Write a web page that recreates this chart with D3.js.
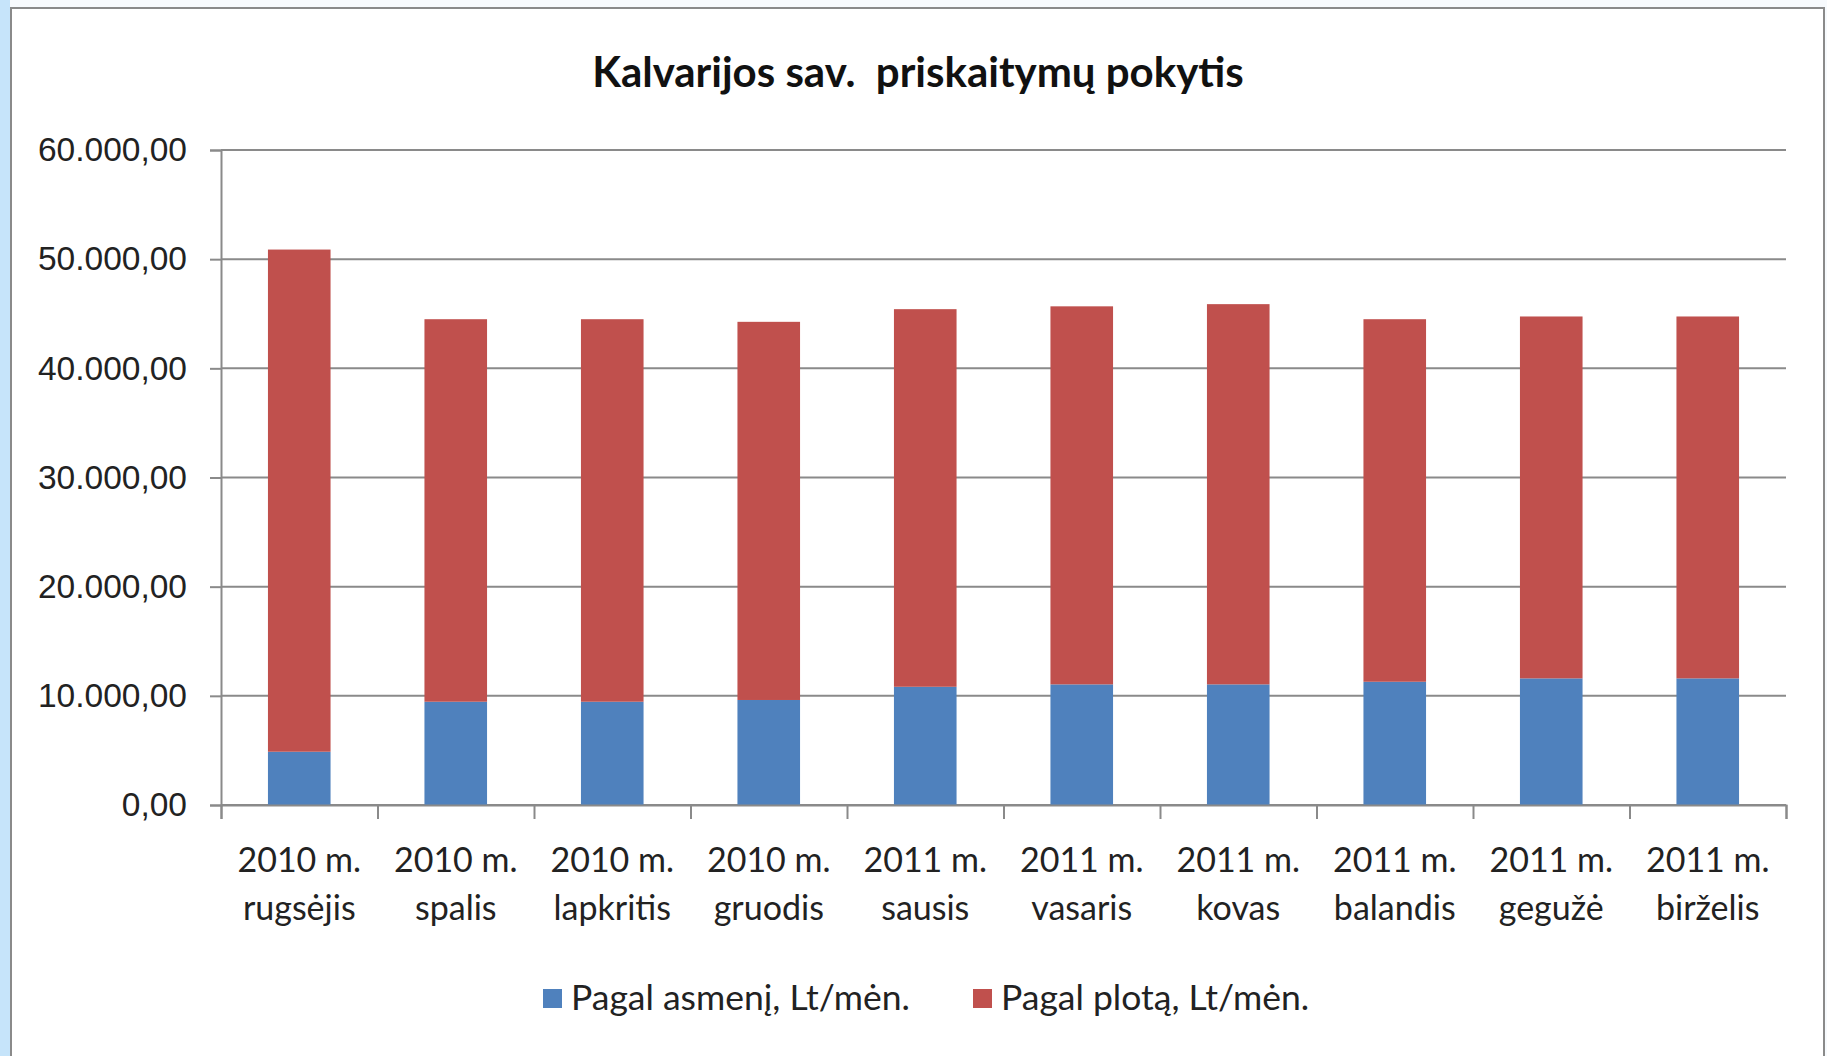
<!DOCTYPE html>
<html>
<head>
<meta charset="utf-8">
<script src="https://cdn.jsdelivr.net/npm/d3@7"></script>
<style>
  html, body { margin: 0; padding: 0; background: #f7fafd; overflow: hidden; }
  svg { display: block; font-family: Lato, "Open Sans", sans-serif; }
</style>
</head>
<body>
<div id="chart"></div>
<script>
// duomenys
const categoriesTop = ["2010 m.", "2010 m.", "2010 m.", "2010 m.", "2011 m.", "2011 m.", "2011 m.", "2011 m.", "2011 m.", "2011 m."];
const categoriesBottom = ["rugsėjis", "spalis", "lapkritis", "gruodis", "sausis", "vasaris", "kovas", "balandis", "gegužė", "birželis"];
const pagalAsmeni = [4880, 9460, 9460, 9620, 10830, 11050, 11050, 11290, 11600, 11600];
const pagalPlota = [46000, 35040, 35040, 34640, 34590, 34630, 34830, 33210, 33150, 33150];
const seriesNames = ["Pagal asmenį, Lt/mėn.", "Pagal plotą, Lt/mėn."];
const yTicks = [0, 10000, 20000, 30000, 40000, 50000, 60000];
const title = "Kalvarijos sav.  priskaitymų pokytis";

const width = 1827;
const height = 1056;
const margin = {top: 150, right: 41, bottom: 251, left: 221};
const innerWidth = width - margin.left - margin.right;
const innerHeight = height - margin.top - margin.bottom;
const colors = ["#4f81bd", "#c0504d"];

const svg = d3.select("#chart").append("svg")
    .attr("width", width)
    .attr("height", height);

// fonas ir rėmelis
svg.append("rect")
    .attr("x", 0).attr("y", 0)
    .attr("width", 10).attr("height", height)
    .attr("fill", "#c6e4fa");
svg.append("rect")
    .attr("x", 11).attr("y", 8)
    .attr("width", width - 14).attr("height", height - 8)
    .attr("fill", "#ffffff");
svg.append("path")
    .attr("d", `M11,${height} V8 H${width - 3} V${height}`)
    .attr("fill", "none")
    .attr("stroke", "#8a8a8a")
    .attr("stroke-width", 2);

// pavadinimas
svg.append("text")
    .attr("x", 918)
    .attr("y", 87)
    .attr("text-anchor", "middle")
    .style("font-size", "42px")
    .style("font-weight", "bold")
    .style("white-space", "pre")
    .style("fill", "#111")
    .text(title);

const g = svg.append("g")
    .attr("transform", `translate(${margin.left},${margin.top})`);

const categories = categoriesBottom.map((d, i) => i);

const xScale = d3.scaleBand()
    .domain(categories)
    .range([0, innerWidth])
    .paddingInner(0.6)
    .paddingOuter(0.3);

const xEdge = d3.scaleLinear()
    .domain([0, categories.length])
    .range([0, innerWidth]);

const yScale = d3.scaleLinear()
    .domain([0, 60000])
    .range([innerHeight, 0]);

// y ašis su tinkleliu
const yAxis = d3.axisLeft(yScale)
    .tickValues(yTicks)
    .tickSize(11)
    .tickPadding(23)
    .tickFormat(d => d3.format(",.2f")(d).replace(/,/g, " ").replace(".", ",").replace(/ /g, "."));

const yAxisG = g.append("g")
    .attr("class", "y-axis")
    .call(yAxis);
yAxisG.select(".domain").attr("stroke", "#8a8a8a").attr("stroke-width", 2);
yAxisG.selectAll(".tick line").attr("stroke", "#8a8a8a").attr("stroke-width", 2);
yAxisG.selectAll(".tick text")
    .style("font-size", "33.5px")
    .style("fill", "#222");

g.append("g")
    .attr("class", "grid")
    .selectAll("line")
    .data(yTicks)
    .join("line")
    .attr("x1", 0)
    .attr("x2", innerWidth)
    .attr("y1", d => yScale(d))
    .attr("y2", d => yScale(d))
    .attr("stroke", "#8a8a8a")
    .attr("stroke-width", 2);

// stulpeliai
const stacked = d3.stack().keys([0, 1])(categories.map(i => [pagalAsmeni[i], pagalPlota[i]]));

g.append("g")
    .selectAll("g")
    .data(stacked)
    .join("g")
    .attr("fill", (d, i) => colors[i])
    .selectAll("rect")
    .data(d => d)
    .join("rect")
    .attr("x", (d, i) => xScale(i))
    .attr("width", xScale.bandwidth())
    .attr("y", d => yScale(d[1]))
    .attr("height", d => yScale(d[0]) - yScale(d[1]));

// x ašis
const xAxisG = g.append("g")
    .attr("transform", `translate(0,${innerHeight})`)
    .call(d3.axisBottom(xEdge)
        .tickValues(d3.range(categories.length + 1))
        .tickSize(14)
        .tickFormat(""));
xAxisG.select(".domain").attr("stroke", "#8a8a8a").attr("stroke-width", 2);
xAxisG.selectAll(".tick line").attr("stroke", "#8a8a8a").attr("stroke-width", 2);
xAxisG.selectAll(".tick text").remove();

const labels = g.append("g")
    .selectAll("text")
    .data(categories)
    .join("text")
    .attr("x", i => xScale(i) + xScale.bandwidth() / 2)
    .attr("y", innerHeight + 67)
    .attr("text-anchor", "middle")
    .style("font-size", "34px")
    .style("fill", "#222");
labels.append("tspan")
    .attr("x", i => xScale(i) + xScale.bandwidth() / 2)
    .text(i => categoriesTop[i]);
labels.append("tspan")
    .attr("x", i => xScale(i) + xScale.bandwidth() / 2)
    .attr("dy", 48)
    .text(i => categoriesBottom[i]);

// legenda
const legendX = [543, 973];
const legend = svg.append("g")
    .selectAll("g")
    .data(seriesNames)
    .join("g")
    .attr("transform", (d, i) => `translate(${legendX[i]},989)`);
legend.append("rect")
    .attr("width", 19)
    .attr("height", 19)
    .attr("fill", (d, i) => colors[i]);
legend.append("text")
    .attr("x", 28)
    .attr("y", 21)
    .style("font-size", "35.5px")
    .style("fill", "#222")
    .text(d => d);
</script>
</body>
</html>
